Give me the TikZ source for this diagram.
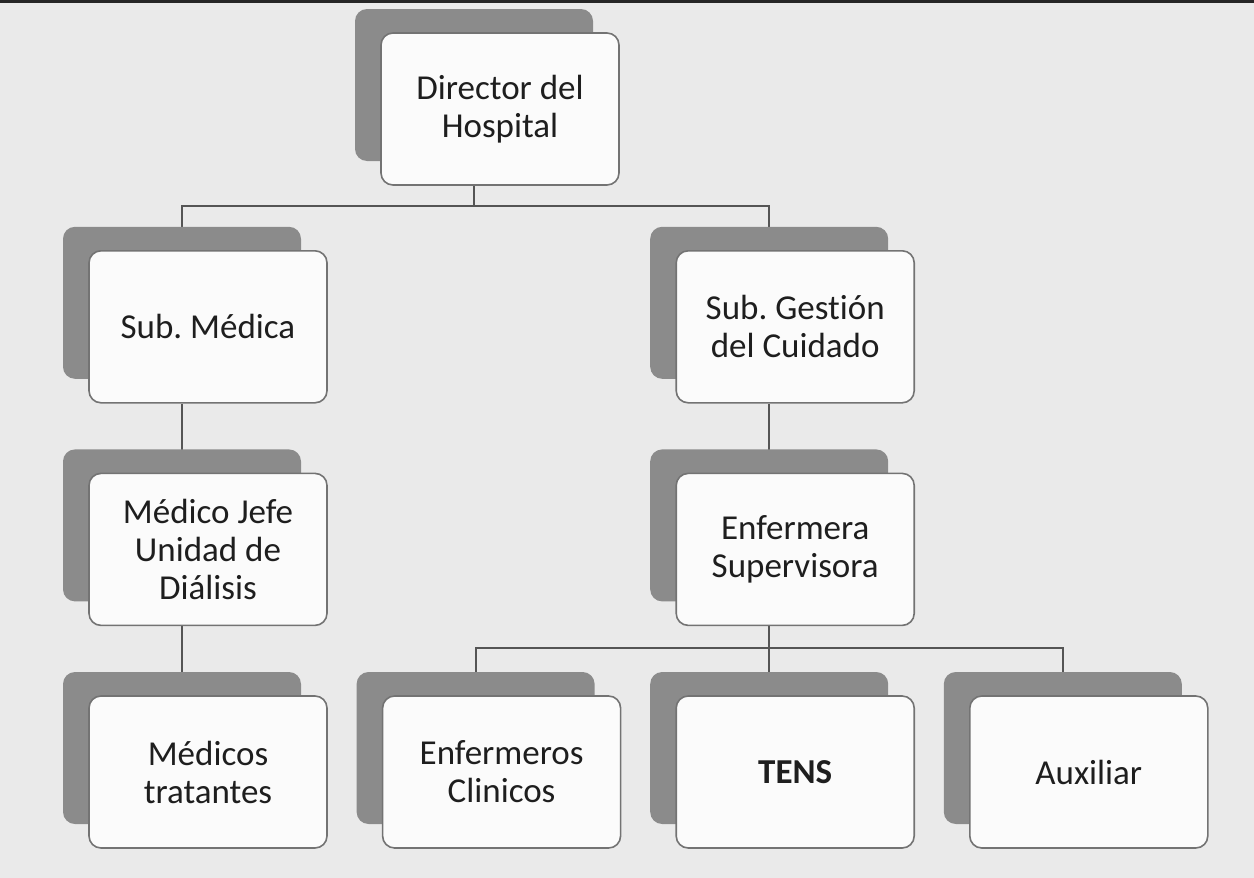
\documentclass[tikz,border=0pt]{standalone}
\usepackage{fontspec}
\setmainfont{Carlito}[Ligatures=NoCommon]
\usepackage{xcolor}
\usepackage{tikz}
\usetikzlibrary{positioning,shadows,backgrounds}
\frenchspacing

\definecolor{pagebg}{HTML}{EAEAEA}
\definecolor{cardline}{HTML}{737373}
\definecolor{cardfill}{HTML}{FBFBFB}
\definecolor{shadowgray}{HTML}{8B8B8B}
\definecolor{connline}{HTML}{555555}
\definecolor{cardtext}{HTML}{1E1E1E}
\newcommand\cardfont{\fontsize{35}{38}\selectfont}

\begin{document}
\begin{tikzpicture}[
  x=1pt,y=-1pt,
  node distance=69pt and 54pt,
  card/.style={draw=cardline,line width=1.6pt,fill=cardfill,rounded corners=12pt,
    minimum width=238pt,minimum height=152pt,inner sep=0pt,align=center,
    font=\cardfont,text=cardtext,
    general shadow={draw=none,fill=shadowgray,shadow xshift=-26pt,shadow yshift=24pt}},
  conn/.style={draw=connline,line width=2pt}
]
\node[card] (tratantes) at (208,772) {Médicos\\tratantes};
\node[card,above=of tratantes] (jefe) {Médico Jefe\\Unidad de\\Diálisis};
\node[card,above=of jefe] (submed) {Sub. Médica};
\node[card,right=of tratantes] (enfclin) {Enfermeros\\Clinicos};
\node[card,right=of enfclin] (tens) {\textbf{TENS}};
\node[card,right=of tens] (auxiliar) {Auxiliar};
\node[card,above=of tens] (superv) {Enfermera\\Supervisora};
\node[card,above=of superv] (subgest) {Sub. Gestión\\del Cuidado};
\node[card] (director) at (500,109) {Director del\\Hospital};

\begin{pgfonlayer}{background}
\fill[pagebg] (0,0) rectangle (1254,878);
\fill[black!85] (0,0) rectangle (1254,3);
% lineas del organigrama (salen del centro de la sombra)
\draw[conn] ([xshift=-26pt]director.south) -- ++(0,20) -| ([xshift=-26pt]submed.north);
\draw[conn] ([xshift=-26pt]director.south) -- ++(0,20) -| ([xshift=-26pt]subgest.north);
\draw[conn] ([xshift=-26pt]submed.south) -- ([xshift=-26pt]jefe.north);
\draw[conn] ([xshift=-26pt]jefe.south) -- ([xshift=-26pt]tratantes.north);
\draw[conn] ([xshift=-26pt]subgest.south) -- ([xshift=-26pt]superv.north);
\draw[conn] ([xshift=-26pt]superv.south) -- ++(0,22) -| ([xshift=-26pt]enfclin.north);
\draw[conn] ([xshift=-26pt]superv.south) -- ++(0,22) -| ([xshift=-26pt]tens.north);
\draw[conn] ([xshift=-26pt]superv.south) -- ++(0,22) -| ([xshift=-26pt]auxiliar.north);
\end{pgfonlayer}
\end{tikzpicture}
\end{document}
